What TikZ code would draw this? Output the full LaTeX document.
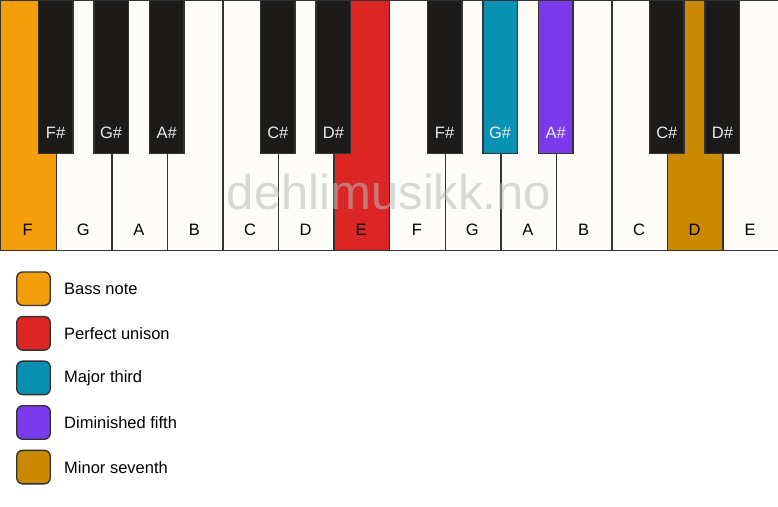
\documentclass[tikz,border=0pt]{standalone}
\usepackage{fontspec}
\setmainfont{Liberation Sans}
\definecolor{bass}{HTML}{F59E0B}
\definecolor{unison}{HTML}{DC2626}
\definecolor{third}{HTML}{0891B2}
\definecolor{fifth}{HTML}{7C3AED}
\definecolor{seventh}{HTML}{CA8A04}
\definecolor{ivory}{HTML}{FDFCF9}
\definecolor{ebony}{HTML}{1C1B1A}
\definecolor{edge}{HTML}{333333}
\definecolor{wmgray}{HTML}{BBBBBB}
\begin{document}
\begin{tikzpicture}[x=1pt,y=-1pt,
  whitekey/.style={draw=edge, line width=1.4pt, minimum width=55.571pt, minimum height=250pt, anchor=north west, inner sep=0pt},
  blackkey/.style={draw=edge, line width=1.4pt, minimum width=34.5pt, minimum height=153pt, anchor=north, inner sep=0pt},
  whitelabel/.style={font=\fontsize{16.5}{18}\selectfont, text=black},
  blacklabel/.style={font=\fontsize{16.5}{18}\selectfont, text=white!92!black},
  legbox/.style={draw=edge, line width=1.4pt, rounded corners=6pt, minimum width=33.5pt, minimum height=33.5pt, inner sep=0pt},
  legtext/.style={font=\fontsize{16.5}{18}\selectfont, anchor=west, inner sep=0pt}]
\useasboundingbox (0,0) rectangle (778,506);
\fill[white] (0,0) rectangle (778,506);
% white keys
\foreach \n/\c [count=\i from 0] in {F/bass,G/ivory,A/ivory,B/ivory,C/ivory,D/ivory,E/unison,F/ivory,G/ivory,A/ivory,B/ivory,C/ivory,D/seventh,E/ivory}{
  \node[whitekey, fill=\c] (w\i) at (\i*55.571, 0) {};
  \node[whitelabel] (wl\i) at (\i*55.571+27.786, 230) {\n};
}
% watermark
\node[text=wmgray, opacity=0.55, font=\fontsize{49}{50}\selectfont, inner sep=0pt] (wm) at (389,191.5) {dehlimusikk.no};
% black keys
\foreach \k/\n/\c in {1/F\#/ebony,2/G\#/ebony,3/A\#/ebony,5/C\#/ebony,6/D\#/ebony,8/F\#/ebony,9/G\#/third,10/A\#/fifth,12/C\#/ebony,13/D\#/ebony}{
  \node[blackkey, fill=\c] (b\k) at (\k*55.571, 0) {};
  \node[blacklabel] (bl\k) at (\k*55.571, 133) {\n};
}
% legend
\foreach \c/\t [count=\j from 0] in {bass/Bass note,unison/Perfect unison,third/Major third,fifth/Diminished fifth,seventh/Minor seventh}{
  \node[legbox, fill=\c] (lb\j) at (33.5, 288.7+\j*44.6) {};
  \node[legtext] (lt\j) at (64, 288.7+\j*44.6) {\t};
}
\end{tikzpicture}
\end{document}
